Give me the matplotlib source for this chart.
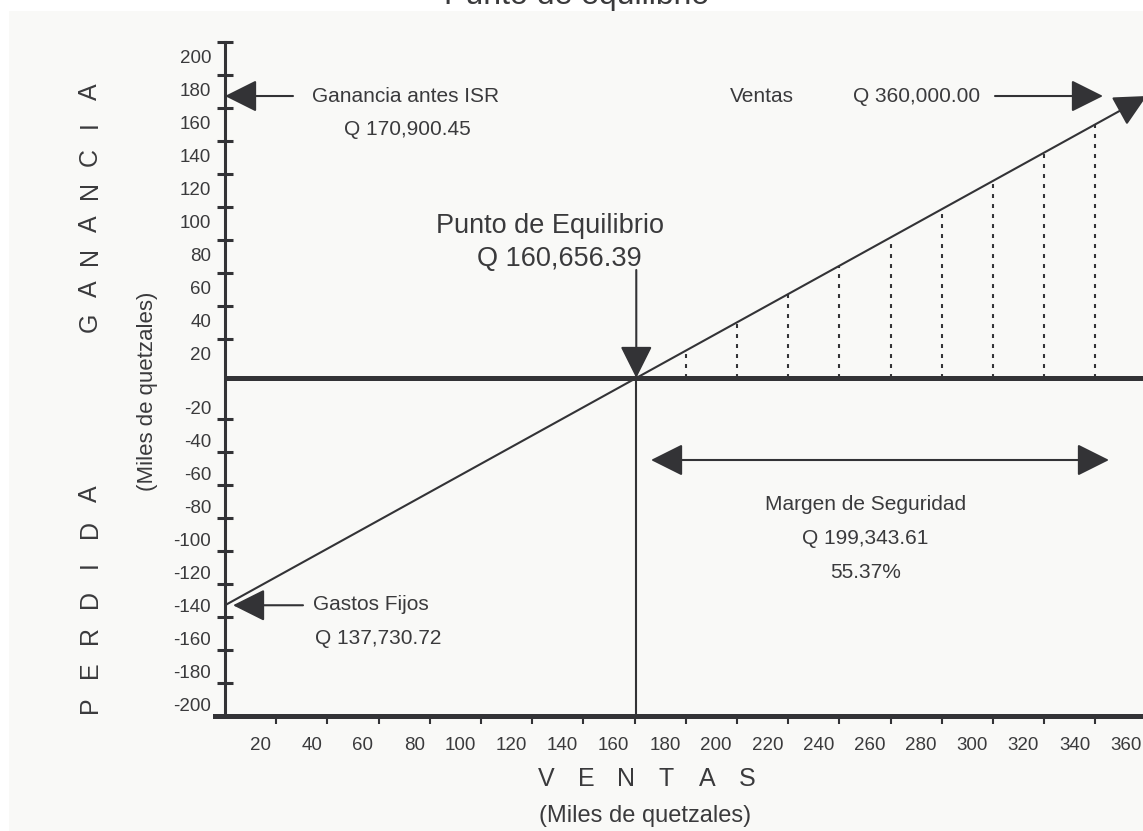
import matplotlib
matplotlib.use('Agg')
from matplotlib import pyplot as plt
from matplotlib.ticker import FixedLocator, FixedFormatter

plt.rcParams['font.family'] = ['Liberation Sans', 'DejaVu Sans']

# cifras en miles de quetzales
ventas = 360.0
gastos_fijos = 137.73072
ganancia_isr = 170.90045
punto_equilibrio = 160.65639
margen_seguridad = 199.34361
margen_pct = 55.37

ventas_ticks = [20, 40, 60, 80, 100, 120, 140, 160, 180, 200, 220, 240, 260, 280, 300, 320, 340]
ventas_labels = [20, 40, 60, 80, 100, 120, 140, 160, 180, 200, 220, 240, 260, 280, 300, 320, 340, 360]
ganancia_labels = [200, 180, 160, 140, 120, 100, 80, 60, 40, 20]
perdida_labels = [-20, -40, -60, -80, -100, -120, -140, -160, -180, -200]
perdida_ticks = [-20, -40, -60, -80, -100, -120, -140, -160, -180]

# linea de resultado (ventas -> ganancia) y zona de margen marcada con puntos
linea_x = [0, ventas]
linea_y = [-gastos_fijos, ganancia_isr]
sombra_x = [180, 200, 220, 240, 260, 280, 300, 320, 340]
sombra_y = [16.5, 33.6, 50.8, 68.0, 85.1, 102.2, 119.3, 136.5, 153.6]

INK = '#333336'
TXT = '#3a3a3c'
BG = '#f9f9f7'

W, H = 1143, 831
fig = plt.figure(figsize=(W / 100, H / 100), dpi=100, facecolor='white')
ax = fig.add_axes([9 / W, 0, 1 - 9 / W, 1 - 11 / H])
ax.set_facecolor(BG)

# pixel layout of the original drawing
X0, SX = 225, 2.56
Y0, SY = 378, 1.65


def to_x(px):
    return (px - X0) / SX


def to_y(py):
    return (Y0 - py) / SY


ax.set_xlim(to_x(9), to_x(W))
ax.set_ylim(to_y(H), to_y(11))

ax.spines[['top', 'right']].set_visible(False)
ax.spines['left'].set_position(('data', 0))
ax.spines['left'].set_bounds(-205, 203.5)
ax.spines['left'].set_linewidth(2.2)
ax.spines['left'].set_color(INK)
ax.spines['bottom'].set_position(('data', -205))
ax.spines['bottom'].set_bounds(to_x(215), to_x(W))
ax.spines['bottom'].set_linewidth(3.6)
ax.spines['bottom'].set_color(INK)

# ticks sit between the labels, like the original drawing
ax.yaxis.set_major_locator(FixedLocator([v + 3.5 for v in ganancia_labels] + [v - 5 for v in perdida_ticks]))
ax.yaxis.set_minor_locator(FixedLocator([v - 5 for v in ganancia_labels] + [v + 2 for v in perdida_labels]))
ax.yaxis.set_minor_formatter(FixedFormatter([str(v) for v in ganancia_labels + perdida_labels]))
ax.xaxis.set_major_locator(FixedLocator(ventas_ticks))
ax.xaxis.set_minor_locator(FixedLocator([v - 2 for v in ventas_labels]))
ax.xaxis.set_minor_formatter(FixedFormatter([str(v) for v in ventas_labels]))

ax.tick_params(axis='y', which='major', direction='inout', length=11.5, width=2.2, color=INK, labelleft=False)
ax.tick_params(axis='y', which='minor', length=0, pad=10, labelsize=13.5, labelcolor=TXT)
ax.tick_params(axis='x', which='major', direction='out', length=5.5, width=1.5, color=INK, labelbottom=False)
ax.tick_params(axis='x', which='minor', length=0, pad=15, labelsize=13.5, labelcolor=TXT)
for lab in ax.xaxis.get_minorticklabels():
    lab.set_horizontalalignment('right')

# eje cero y linea del punto de equilibrio
ax.plot([0, ventas], [0, 0], color=INK, lw=3.6, solid_capstyle='butt', zorder=3)
ax.plot([punto_equilibrio, punto_equilibrio], [0, -205], color=INK, lw=1.5, zorder=2)
ax.vlines(sombra_x, 0, sombra_y, colors=INK, lw=1.5, linestyles=(0, (1.9, 2.9)), zorder=2)

head = '-|>,head_length=2.0,head_width=1.0'
arrow = dict(arrowstyle=head, mutation_scale=10, lw=1.5, color=INK, shrinkA=0, shrinkB=0)

ax.annotate('', xy=(linea_x[1], linea_y[1]), xytext=(linea_x[0], linea_y[0]), arrowprops=arrow,
            annotation_clip=False)
ax.annotate('', xy=(0, ganancia_isr), xytext=(to_x(293), ganancia_isr), arrowprops=arrow)
ax.annotate('', xy=(to_x(1103), ganancia_isr), xytext=(to_x(995), ganancia_isr), arrowprops=arrow)
ax.annotate('', xy=(punto_equilibrio, 0), xytext=(punto_equilibrio, to_y(270)), arrowprops=arrow)
ax.annotate('', xy=(to_x(233), -gastos_fijos), xytext=(to_x(303), -gastos_fijos), arrowprops=arrow)
ax.annotate('', xy=(to_x(651), to_y(460)), xytext=(to_x(1109), to_y(460)),
            arrowprops=dict(arrow, arrowstyle='<|-|>,head_length=2.0,head_width=1.0'))

txt = dict(color=TXT, fontsize=15, va='center')
ax.text(to_x(406), to_y(97), 'Ganancia antes ISR', ha='center', **txt)
ax.text(to_x(407), to_y(130), f'Q {ganancia_isr * 1000:,.2f}', ha='center', **txt)
ax.text(to_x(762), to_y(97), 'Ventas', ha='center', **txt)
ax.text(to_x(917), to_y(97), f'Q {ventas * 1000:,.2f}', ha='center', **txt)
ax.text(to_x(866), to_y(505), 'Margen de Seguridad', ha='center', **txt)
ax.text(to_x(865), to_y(538), f'Q {margen_seguridad * 1000:,.2f}', ha='center', **txt)
ax.text(to_x(866), to_y(572), f'{margen_pct:.2f}%', ha='center', **txt)
ax.text(to_x(313), to_y(605), 'Gastos Fijos', ha='left', **txt)
ax.text(to_x(315), to_y(638), f'Q {gastos_fijos * 1000:,.2f}', ha='left', **txt)
ax.text(to_x(550), to_y(226), 'Punto de Equilibrio', ha='center', color=TXT, fontsize=19.5, va='center')
ax.text(to_x(559), to_y(259), f'Q {punto_equilibrio * 1000:,.2f}', ha='center', color=TXT, fontsize=19.5, va='center')


def spaced(letters, x, y, dx, dy, rotation):
    for i, ch in enumerate(letters):
        fig.text((x + i * dx) / W, 1 - (y + i * dy) / H, ch, rotation=rotation,
                 ha='center', va='center', color=TXT, fontsize=18)


spaced('GANANCIA', 90, 322, 0, -32.9, 90)
spaced('PERDIDA', 90, 705, 0, -35.2, 90)
spaced('VENTAS', 546, 779, 40.2, 0, 0)

fig.text(147 / W, 1 - 391 / H, '(Miles de quetzales)', rotation=90, ha='center', va='center',
         color=TXT, fontsize=16)
fig.text(645 / W, 1 - 816 / H, '(Miles de quetzales)', ha='center', va='center', color=TXT, fontsize=17)
fig.text(577 / W, 1 - 4 / H, 'Punto de equilibrio', ha='center', va='baseline', color=TXT, fontsize=23)

fig.savefig('out.png', dpi=100, facecolor=fig.get_facecolor())
